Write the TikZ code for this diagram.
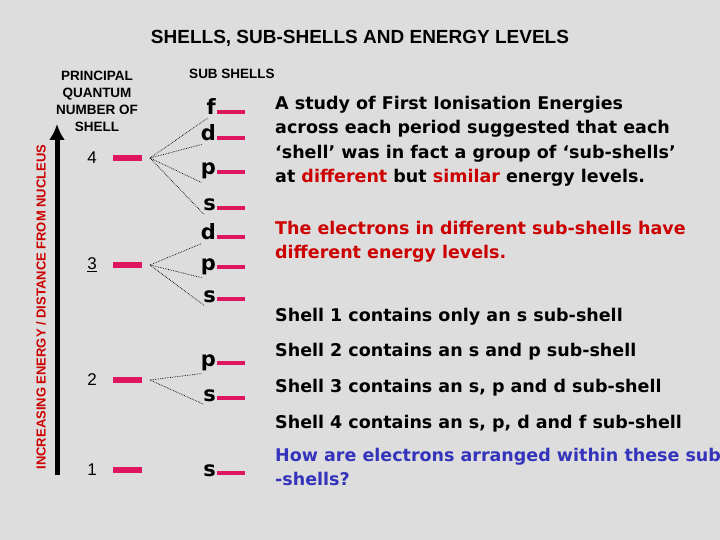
\documentclass[tikz,border=0pt]{standalone}
\usepackage{fontspec}
\usetikzlibrary{arrows.meta}
\setmainfont{Liberation Sans}
\newfontfamily\comic{DejaVu Sans}
\definecolor{bg}{HTML}{DDDDDD}
\definecolor{barc}{HTML}{E0155F}
\definecolor{redt}{HTML}{CC0000}
\definecolor{bluet}{HTML}{3333BB}
\begin{document}
\begin{tikzpicture}[x=1pt,y=-1pt,
  shellbar/.style={barc,line width=6pt},
  subbar/.style={barc,line width=4pt},
  lett/.style={font=\comic\bfseries\fontsize{21}{21}\selectfont,anchor=base east,inner sep=0pt},
  dots/.style={densely dotted,line width=0.7pt},
  txt/.style={font=\comic\bfseries\fontsize{17.5}{24.5}\selectfont,anchor=north west,align=left,inner sep=0pt},
  hd/.style={font=\bfseries\fontsize{13.5}{17}\selectfont,align=center}]
\fill[bg] (0,0) rectangle (720,540);
\useasboundingbox (0,0) rectangle (720,540);
\node[font=\bfseries\fontsize{19}{20}\selectfont] (title) at (360,38) {SHELLS, SUB-SHELLS AND ENERGY LEVELS};
\node[hd] (pqn) at (97,101) {PRINCIPAL\\QUANTUM\\NUMBER OF\\SHELL};
\node[hd] (subh) at (232,74) {SUB SHELLS};
\coordinate (abot) at (57,475);
\coordinate (atop) at (57,124);
\draw[line width=5pt,-{Latex[length=16pt,width=16pt]}] (abot) -- (atop);
\node[rotate=90,text=redt,font=\bfseries\fontsize{13}{14}\selectfont] (axl) at (41,307) {INCREASING ENERGY / DISTANCE FROM NUCLEUS};
% shells
\foreach \n/\y/\lab in {s4/158/4,s3/265/\underline{3},s2/380/2,s1/470/1}{
  \node[font=\fontsize{17}{17}\selectfont] (n\n) at (92,\y) {\lab};
  \coordinate (L\n) at (113,\y); \coordinate (R\n) at (142,\y);
  \draw[shellbar] (L\n) -- (R\n);
  \coordinate (d\n) at (150,\y);
}
\foreach \m/\l/\yb in {f4/f/115,d4/d/141,p4/p/175,s4b/s/211,d3/d/240,p3/p/270,s3b/s/302,p2/p/366,s2b/s/401,s1b/s/476}{
  \node[lett] (t\m) at (216,\yb) {\l};
  \coordinate (u\m) at (217,\yb-3); \coordinate (v\m) at (245,\yb-3);
  \draw[subbar] (u\m) -- (v\m);
}
\foreach \m in {f4,d4,p4,s4b} \draw[dots] (ds4) -- ([xshift=1pt,yshift=-3pt]t\m.south west);
\foreach \m in {d3,p3,s3b} \draw[dots] (ds3) -- ([xshift=1pt,yshift=-3pt]t\m.south west);
\foreach \m in {p2,s2b} \draw[dots] (ds2) -- ([xshift=1pt,yshift=-3pt]t\m.south west);
\node[txt] (para1) at (275,96) {A study of First Ionisation Energies\\across each period suggested that each\\‘shell’ was in fact a group of ‘sub-shells’\\at \textcolor{redt}{different} but \textcolor{redt}{similar} energy levels.};
\node[txt,text=redt] (para2) at (275,221) {The electrons in different sub-shells have\\different energy levels.};
\node[txt] (l1) at (275,308) {Shell 1 contains only an s sub-shell};
\node[txt] (l2) at (275,343) {Shell 2 contains an s and p sub-shell};
\node[txt] (l3) at (275,379) {Shell 3 contains an s, p and d sub-shell};
\node[txt] (l4) at (275,415) {Shell 4 contains an s, p, d and f sub-shell};
\node[txt,text=bluet] (q) at (275,448) {How are electrons arranged within these sub\\-shells?};
\end{tikzpicture}
\end{document}
